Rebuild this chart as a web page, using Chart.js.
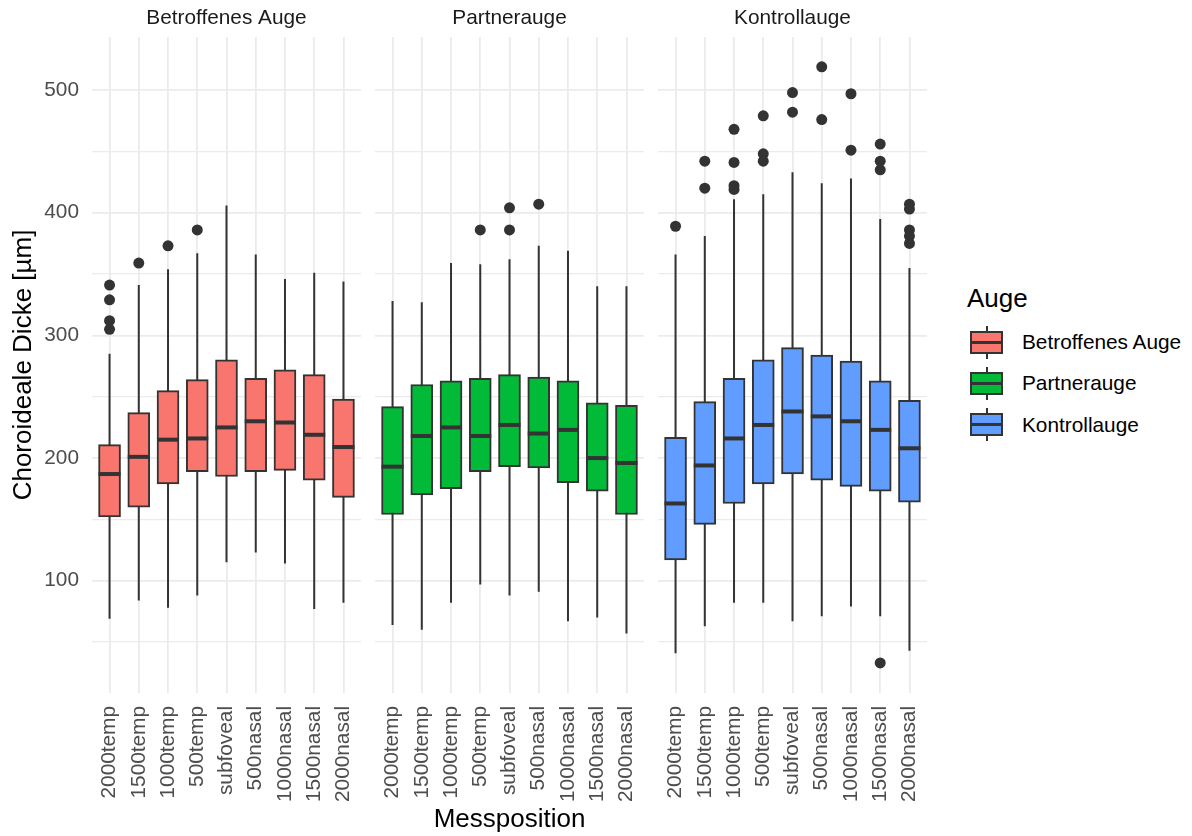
<!DOCTYPE html>
<html lang="de">
<head>
<meta charset="utf-8">
<title>Choroideale Dicke nach Messposition</title>
<script src="https://cdn.jsdelivr.net/npm/chart.js@4.4.1/dist/chart.umd.min.js"></script>
<style>
  html, body { margin: 0; padding: 0; background: #ffffff; }
  #stage { position: relative; width: 1192px; height: 836px; overflow: hidden;
           font-family: 'Liberation Sans', Arial, Helvetica, sans-serif; }
  #stage canvas { position: absolute; top: 0; }
  .legend-title { position: absolute; left: 967px; top: 282px; font-size: 26px; line-height: 32px; color: #000; }
  .legend-key { position: absolute; left: 970px; width: 33px; height: 33px; }
  .legend-key .whisk { position: absolute; left: 15.5px; top: 0; width: 2px; height: 33px; background: #333333; }
  .legend-key .box { position: absolute; left: 0; top: 5px; width: 33px; height: 23px; box-sizing: border-box;
                     border: 2px solid #333333; }
  .legend-key .med { position: absolute; left: 0; top: 15px; width: 33px; height: 3px; background: #333333; }
  .legend-label { position: absolute; left: 1022px; font-size: 20.8px; line-height: 26px; color: #000; white-space: nowrap; }
</style>
</head>
<body>
<div id="stage">
  <canvas id="panel0" width="361" height="836" style="left:0px"></canvas>
  <canvas id="panel1" width="269" height="836" style="left:375px"></canvas>
  <canvas id="panel2" width="269" height="836" style="left:658px"></canvas>
</div>
<script>
// Measuring positions along the horizontal meridian
const positions = ['2000temp', '1500temp', '1000temp', '500temp', 'subfoveal',
                   '500nasal', '1000nasal', '1500nasal', '2000nasal'];
const facets = ['Betroffenes Auge', 'Partnerauge', 'Kontrollauge'];
const yTicks = [50, 100, 150, 200, 250, 300, 350, 400, 450, 500];

// Betroffenes Auge: whisker ends, quartiles, median, outliers (µm)
const betroffenLow    = [69, 84, 78, 88, 115, 123, 114, 77, 82];
const betroffenQ1     = [152, 160, 179, 189, 185, 189, 190, 182, 168];
const betroffenMedian = [187, 201, 215, 216, 225, 230, 229, 219, 209];
const betroffenQ3     = [211, 237, 255, 264, 280, 265, 272, 268, 248];
const betroffenHigh   = [285, 341, 354, 367, 406, 366, 346, 351, 344];
const betroffenOut    = [[341, 329, 312, 305], [359], [373], [386], [], [], [], [], []];

// Partnerauge
const partnerLow    = [64, 60, 82, 97, 88, 91, 67, 70, 57];
const partnerQ1     = [154, 170, 175, 189, 193, 192, 180, 173, 154];
const partnerMedian = [193, 218, 225, 218, 227, 220, 223, 200, 196];
const partnerQ3     = [242, 260, 263, 265, 268, 266, 263, 245, 243];
const partnerHigh   = [328, 327, 359, 358, 362, 373, 369, 340, 340];
const partnerOut    = [[], [], [], [386], [386, 404], [407], [], [], []];

// Kontrollauge
const kontrollLow    = [41, 63, 82, 82, 67, 71, 79, 71, 43];
const kontrollQ1     = [117, 146, 163, 179, 187, 182, 177, 173, 164];
const kontrollMedian = [163, 194, 216, 227, 238, 234, 230, 223, 208];
const kontrollQ3     = [217, 246, 265, 280, 290, 284, 279, 263, 247];
const kontrollHigh   = [366, 381, 411, 415, 433, 424, 428, 395, 355];
const kontrollOut    = [[389], [442, 420], [468, 441, 422, 419], [479, 448, 442], [498, 482],
                        [519, 476], [497, 451], [456, 442, 435, 33], [407, 403, 386, 381, 375]];

// Fill colours per eye group
const fills = ['#F8766D', '#00BA38', '#619CFF'];

const groups = [
  { low: betroffenLow, q1: betroffenQ1, median: betroffenMedian, q3: betroffenQ3, high: betroffenHigh, out: betroffenOut },
  { low: partnerLow,   q1: partnerQ1,   median: partnerMedian,   q3: partnerQ3,   high: partnerHigh,   out: partnerOut },
  { low: kontrollLow,  q1: kontrollQ1,  median: kontrollMedian,  q3: kontrollQ3,  high: kontrollHigh,  out: kontrollOut }
];

const FONT = "'Liberation Sans', Arial, Helvetica, sans-serif";
const INK = '#333333';
const GRID = '#ebebeb';
Chart.defaults.font.family = FONT;

// Whiskers are drawn beneath the boxes, medians on top of them
function boxPlotPlugin(stat) {
  return {
    id: 'boxWhiskers',
    beforeDatasetsDraw(chart) {
      const { ctx, scales: { x, y } } = chart;
      ctx.save();
      ctx.strokeStyle = INK;
      ctx.lineWidth = 2;
      stat.low.forEach((lo, i) => {
        const px = x.getPixelForValue(i);
        ctx.beginPath();
        ctx.moveTo(px, y.getPixelForValue(lo));
        ctx.lineTo(px, y.getPixelForValue(stat.high[i]));
        ctx.stroke();
      });
      ctx.restore();
    },
    afterDatasetsDraw(chart) {
      const { ctx, scales: { y } } = chart;
      const bars = chart.getDatasetMeta(0).data;
      ctx.save();
      ctx.fillStyle = INK;
      stat.median.forEach((m, i) => {
        const el = bars[i];
        const py = y.getPixelForValue(m);
        ctx.fillRect(el.x - el.width / 2, py - 2, el.width, 4);
      });
      ctx.restore();
    }
  };
}

function makePanel(k) {
  const stat = groups[k];
  const first = k === 0;
  const middle = k === 1;
  const boxes = positions.map((p, i) => ({ x: i, y: [stat.q1[i], stat.q3[i]] }));
  const outliers = stat.out.flatMap((vals, i) => vals.map(v => ({ x: i, y: v })));

  return new Chart(document.getElementById('panel' + k), {
    type: 'bar',
    data: {
      datasets: [
        {
          type: 'bar',
          data: boxes,
          backgroundColor: fills[k],
          borderColor: INK,
          borderWidth: 2,
          borderSkipped: false,
          barThickness: 22,
          order: 1
        },
        {
          type: 'scatter',
          data: outliers,
          pointRadius: 5.5,
          pointBackgroundColor: INK,
          pointBorderWidth: 0,
          order: 0
        }
      ]
    },
    plugins: [boxPlotPlugin(stat)],
    options: {
      responsive: false,
      animation: false,
      events: [],
      layout: { padding: 0, autoPadding: false },
      plugins: {
        legend: { display: false },
        tooltip: { enabled: false },
        title: {
          display: true,
          text: facets[k],
          fullSize: false,
          color: '#1a1a1a',
          font: { size: 20.8, weight: 'normal', family: FONT },
          padding: { top: 6, bottom: 6 }
        }
      },
      scales: {
        x: {
          type: 'linear',
          min: -0.6,
          max: 8.6,
          offset: false,
          afterBuildTicks: s => { s.ticks = positions.map((p, i) => ({ value: i })); },
          afterFit: s => { s.height = 143; s.paddingLeft = 0; s.paddingRight = 0; },
          grid: { color: GRID, lineWidth: 1.8, drawTicks: false, offset: false },
          border: { display: false },
          ticks: {
            autoSkip: false,
            maxRotation: 90,
            minRotation: 90,
            padding: 13,
            color: '#4d4d4d',
            font: { size: 20.8, family: FONT },
            callback: v => positions[Math.round(v)]
          },
          title: {
            display: middle,
            text: 'Messposition',
            color: '#000000',
            font: { size: 26, family: FONT },
            padding: { top: 0, bottom: 1 }
          }
        },
        y: {
          type: 'linear',
          min: 8.5,
          max: 543.3,
          afterBuildTicks: s => { s.ticks = yTicks.map(v => ({ value: v })); },
          afterFit: s => { s.width = first ? 92 : 0; s.paddingTop = 0; s.paddingBottom = 0; },
          grid: {
            color: GRID,
            lineWidth: c => (c.tick && c.tick.value % 100 === 0 ? 1.8 : 1.3),
            drawTicks: false
          },
          border: { display: false },
          ticks: {
            display: first,
            padding: 13,
            color: '#4d4d4d',
            font: { size: 20.8, family: FONT },
            callback: v => (v % 100 === 0 ? String(v) : '')
          },
          title: {
            display: first,
            text: 'Choroideale Dicke [µm]',
            color: '#000000',
            font: { size: 26, family: FONT },
            padding: { top: 8, bottom: 0 }
          }
        }
      }
    }
  });
}

facets.forEach((f, k) => makePanel(k));

// Legend: title, boxplot keys and labels
const stage = document.getElementById('stage');
const legendTitle = document.createElement('div');
legendTitle.className = 'legend-title';
legendTitle.textContent = 'Auge';
stage.appendChild(legendTitle);

facets.forEach((name, k) => {
  const cy = 342 + k * 41.3;
  const key = document.createElement('div');
  key.className = 'legend-key';
  key.style.top = (cy - 16.5) + 'px';
  key.innerHTML = '<div class="whisk"></div><div class="box" style="background:' + fills[k] +
                  '"></div><div class="med"></div>';
  stage.appendChild(key);

  const label = document.createElement('div');
  label.className = 'legend-label';
  label.style.top = (cy - 13) + 'px';
  label.textContent = name;
  stage.appendChild(label);
});
</script>
</body>
</html>
